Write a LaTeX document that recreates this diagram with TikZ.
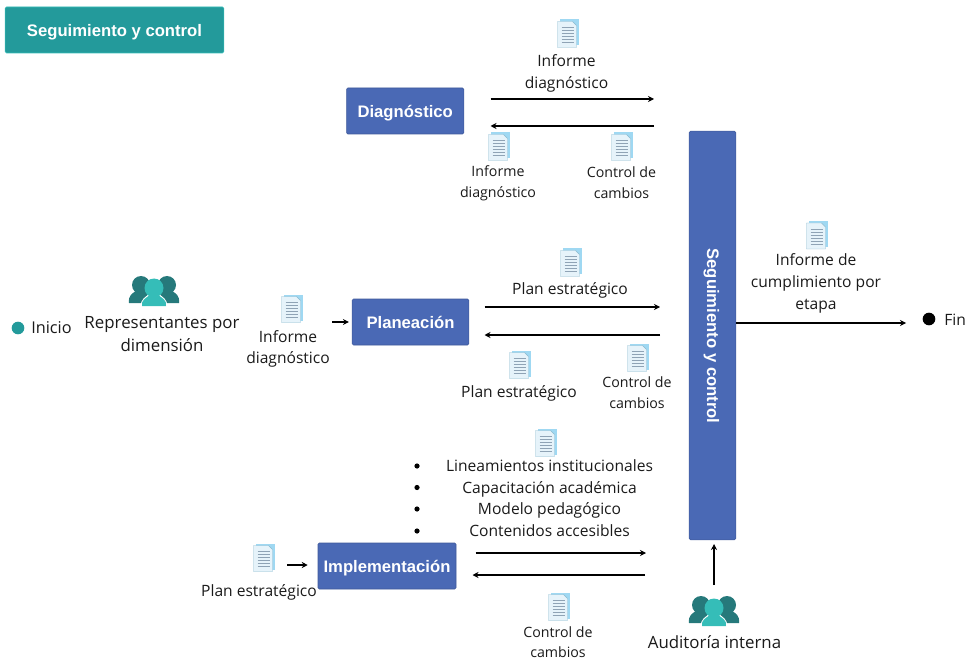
\documentclass[tikz,border=0pt]{standalone}
\usepackage{fontspec}
\setmainfont{Open Sans}
\newfontfamily\boxfont{Liberation Sans}
\usetikzlibrary{arrows.meta}
\definecolor{teal1}{HTML}{239A9B}
\definecolor{tealL}{HTML}{35BDB8}
\definecolor{tealD}{HTML}{26797B}
\definecolor{blue1}{HTML}{4A69B5}
\definecolor{ink}{HTML}{1A1A1A}
\definecolor{docback}{HTML}{9FD8F2}
\definecolor{docpage}{HTML}{E6F3FA}
\definecolor{docline}{HTML}{8FA3B5}
\tikzset{
  lbl/.style={inner sep=0pt,align=center,text=ink,font=\fontsize{11.7}{16.2}\selectfont},
  lblbig/.style={inner sep=0pt,align=center,text=ink,font=\fontsize{12.65}{17}\selectfont},
  lblsmall/.style={inner sep=0pt,align=center,text=ink,font=\fontsize{10.65}{15.4}\selectfont},
  lbllist/.style={inner sep=0pt,anchor=base,text=ink,font=\fontsize{11.7}{16.2}\selectfont},
  boxtext/.style={font=\boxfont\bfseries\fontsize{12.5}{14}\selectfont},
  bluebox/.style={rectangle,rounded corners=1pt,fill=blue1,draw=blue1!85!black,line width=0.4pt,text=white,inner sep=0pt,text height=9.5pt,text depth=0pt,boxtext},
  conn/.style={-{Stealth[length=4.5pt,width=4.5pt]},line width=0.85pt,black},
  dot/.style={circle,inner sep=0pt,minimum size=9.5pt},
  pics/docicon/.style={code={
    \fill[docback] (-8,-14) -- (11,-14) -- (11,12) -- (-8,12) -- cycle;
    \fill[docpage,draw=docback!85!black,line width=0.3pt] (-10,-12) -- (5,-12) -- (9,-8) -- (9,14) -- (-10,14) -- cycle;
    \foreach \yy in {-6,-3,0,3,6,9}{\draw[docline,line width=0.4pt] (-6,\yy) -- (6,\yy);}
  }},
  pics/people/.style={code={
    \foreach \xx in {-13,13}{
      \fill[tealD] (\xx,-7) circle (9);
      \fill[tealD] (\xx-12,11) .. controls (\xx-13,3) and (\xx-8,1) .. (\xx-5,-1) -- (\xx+5,-1) .. controls (\xx+8,1) and (\xx+13,3) .. (\xx+12,11) -- cycle;
    }
    \fill[white] (-13,14.6) .. controls (-14,7) and (-8,5) .. (-5,2) -- (5,2) .. controls (8,5) and (14,7) .. (13,14.6) -- cycle;
    \fill[tealL] (0,-4) circle (9.5);
    \fill[tealL] (-12,14) .. controls (-13,8) and (-8,6) .. (-4,3) -- (4,3) .. controls (8,6) and (13,8) .. (12,14) -- cycle;
  }}
}
\begin{document}
\begin{tikzpicture}[x=0.75pt,y=-0.75pt]
\useasboundingbox (0,0) rectangle (974,659);
% header
\node[rectangle,rounded corners=1pt,fill=teal1,draw=tealL,line width=0.4pt,text=white,minimum width=164pt,minimum height=34.5pt,inner sep=0pt,text height=9.5pt,text depth=0pt,boxtext] (header) at (114.5,30) {Seguimiento y control};
% boxes
\node[bluebox,minimum width=88pt,minimum height=34.5pt] (diag) at (405.2,111) {Diagnóstico};
\node[bluebox,minimum width=87.5pt,minimum height=34.5pt] (plan) at (410.5,322) {Planeación};
\node[bluebox,minimum width=103.5pt,minimum height=34.5pt] (impl) at (387,566) {Implementación};
\node[bluebox,minimum width=35pt,minimum height=306.5pt] (seg) at (712.5,335.5) {};
\node[rotate=-90,text=white,inner sep=0pt,boxtext] (segl) at (711.5,336) {Seguimiento y control};
% start/end
\node[dot,fill=teal1] (ini) at (18,328) {};
\node[lbl,anchor=west,font=\fontsize{12.2}{16}\selectfont] (inil) at (31,327.5) {Inicio};
\node[dot,fill=black] (fin) at (929,319) {};
\node[lbl,anchor=west] (finl) at (944,319.5) {Fin};
% people
\pic at (154,292) {people};
\node[lblbig] (rep) at (162,334) {Representantes por\\dimensión};
\pic at (714,612) {people};
\node[lblbig] (aud) at (714.5,642) {Auditoría interna};
% docs
\pic at (567.5,33.5) {docicon};
\pic at (498.5,146.5) {docicon};
\pic at (621.5,146.5) {docicon};
\pic at (570.5,262.5) {docicon};
\pic at (291.5,308.5) {docicon};
\pic at (519.5,364.5) {docicon};
\pic at (637.5,357.5) {docicon};
\pic at (816.5,235) {docicon};
\pic at (545.5,442.5) {docicon};
\pic at (263.5,557.5) {docicon};
\pic at (558.5,606.5) {docicon};
% labels
\node[lbl] (t1) at (566.5,73.5) {Informe\\diagnóstico};
\node[lblsmall] (t2) at (498,183.5) {Informe\\diagnóstico};
\node[lblsmall] (t3) at (621.5,182.5) {Control de\\cambios};
\node[lbl] (t4) at (570,290.5) {Plan estratégico};
\node[lbl] (t5) at (288,349) {Informe\\diagnóstico};
\node[lbl] (t6) at (519,393) {Plan estratégico};
\node[lblsmall] (t7) at (637,392.5) {Control de\\cambios};
\node[lbl] (t8) at (816,283.5) {Informe de\\cumplimiento por\\etapa};
\node[lbllist] (t9a) at (549.5,471) {Lineamientos institucionales};
\node[lbllist] (t9b) at (549.5,493) {Capacitación académica};
\node[lbllist] (t9c) at (549.5,514.5) {Modelo pedagógico};
\node[lbllist] (t9d) at (549.5,536) {Contenidos accesibles};
\foreach \n/\yy in {a/466,b/487.5,c/509,d/531}{\fill (417,\yy) circle (2.6);}
\node[lbl] (t10) at (259,592) {Plan estratégico};
\node[lblsmall] (t11) at (558,642) {Control de\\cambios};
% connector anchors
\coordinate (d1) at (490.5,99); \coordinate (d2) at (654,99);
\coordinate (d3) at (654,126); \coordinate (d4) at (490.5,126);
\coordinate (p1) at (484.5,307); \coordinate (p2) at (660,307);
\coordinate (p3) at (660,335); \coordinate (p4) at (484.5,335);
\coordinate (i1) at (475.5,553); \coordinate (i2) at (646,553);
\coordinate (i3) at (645,575); \coordinate (i4) at (472.5,575);
\coordinate (o1) at (seg.east |- 0,323); \coordinate (o2) at (906,323);
\coordinate (u1) at (714,585); \coordinate (u2) at (714,544);
\coordinate (k1) at (287,565); \coordinate (k2) at (impl.west |- 0,565);
\coordinate (k3) at (332,322);
\draw[conn] (d1) -- (d2);
\draw[conn] (d3) -- (d4);
\draw[conn] (p1) -- (p2);
\draw[conn] (p3) -- (p4);
\draw[conn] (i1) -- (i2);
\draw[conn] (i3) -- (i4);
\draw[conn] (o1) -- (o2);
\draw[conn] (u1) -- (u2);
\draw[conn] (k1) -- ([xshift=-10*0.75pt]k2);
\draw[conn] (k3) -- ([xshift=-3*0.75pt]plan.west);
\end{tikzpicture}
\end{document}
